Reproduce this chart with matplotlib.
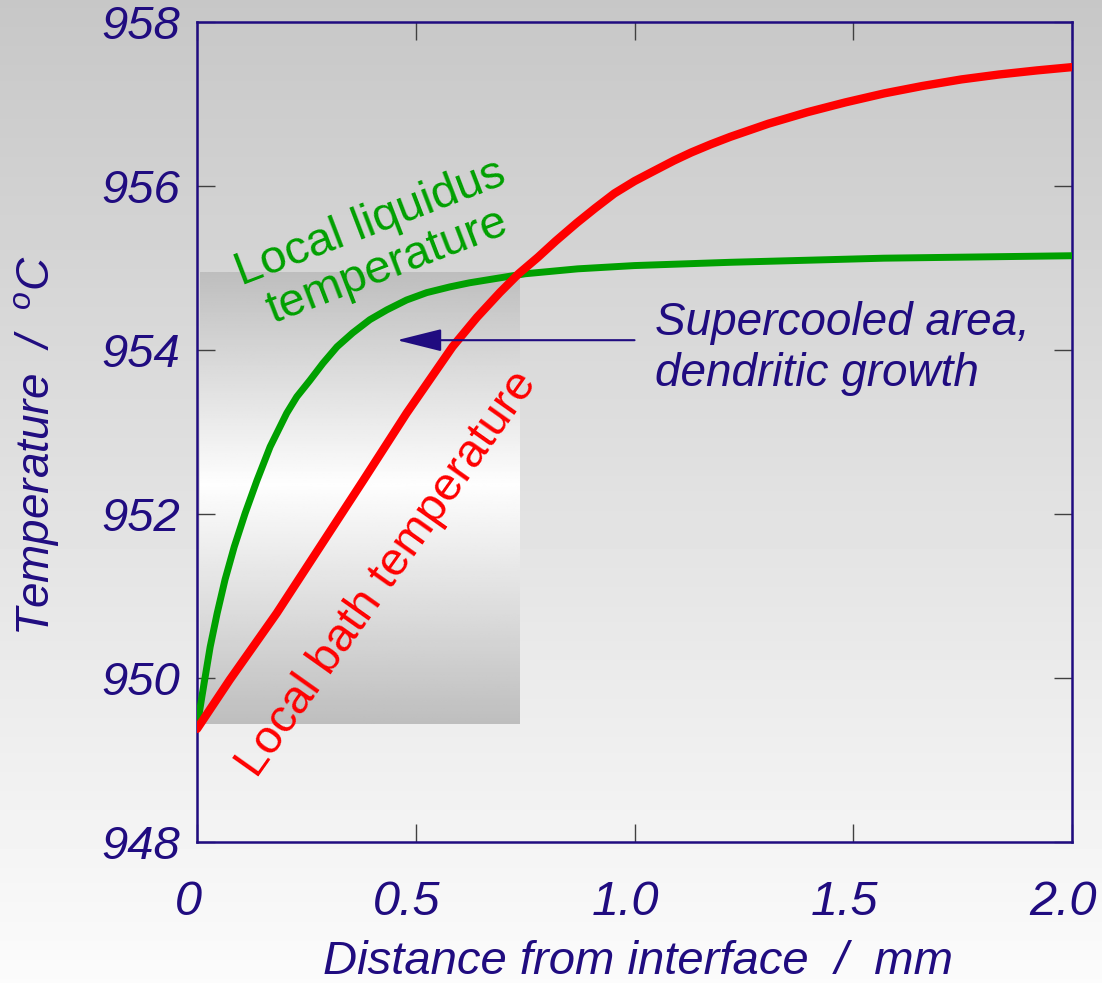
import numpy as np
import matplotlib
matplotlib.use("Agg")
import matplotlib.pyplot as plt
import matplotlib.transforms as mtransforms

# distance from interface (mm) and local bath temperature (degC)
bath_x = [0.0, 0.075, 0.182, 0.281, 0.380, 0.479, 0.584, 0.640, 0.692, 0.735, 0.779,
          0.820, 0.868, 0.910, 0.954, 1.0, 1.043, 1.090, 1.130, 1.175, 1.219, 1.306,
          1.395, 1.482, 1.571, 1.658, 1.747, 1.833, 1.920, 2.0]
bath_T = [949.38, 949.98, 950.79, 951.60, 952.41, 953.23, 954.04, 954.40, 954.70, 954.93,
          955.13, 955.33, 955.55, 955.73, 955.91, 956.06, 956.18, 956.31, 956.41, 956.51,
          956.60, 956.76, 956.90, 957.02, 957.13, 957.22, 957.30, 957.36, 957.41, 957.45]

# local liquidus temperature
liq_x = [0.0, 0.011, 0.030, 0.046, 0.064, 0.085, 0.110, 0.137, 0.167, 0.205, 0.228,
         0.258, 0.288, 0.320, 0.356, 0.395, 0.434, 0.479, 0.525, 0.578, 0.623, 0.669,
         0.750, 0.870, 1.0, 1.220, 1.570, 2.0]
liq_T = [949.40, 949.77, 950.38, 950.79, 951.20, 951.60, 952.01, 952.41, 952.82, 953.23,
         953.43, 953.63, 953.84, 954.04, 954.21, 954.37, 954.49, 954.61, 954.70, 954.77,
         954.82, 954.86, 954.93, 954.99, 955.03, 955.07, 955.12, 955.15]

# supercooled zone (shaded box) and arrow
shade_x = [0.007, 0.737]
shade_T = [949.44, 954.95]
arrow_from = (1.0, 954.12)
arrow_to = (0.457, 954.12)

xticks = [0, 0.5, 1.0, 1.5, 2.0]
xtick_labels = ["0", "0.5", "1.0", "1.5", "2.0"]
yticks = [948, 950, 952, 954, 956, 958]

navy = "#200c80"
red = "#ff0000"
green = "#00a000"

plt.rcParams["font.family"] = ["Liberation Sans", "DejaVu Sans"]
plt.rcParams["mathtext.fontset"] = "custom"
plt.rcParams["mathtext.rm"] = "Liberation Sans:italic"
plt.rcParams["mathtext.it"] = "Liberation Sans:italic"

fig = plt.figure(figsize=(11.02, 9.83), dpi=100)

# figure background: grey on top fading to near white at the bottom
bg = fig.add_axes([0, 0, 1, 1], zorder=-10)
grad = np.linspace(0.78, 0.985, 256).reshape(-1, 1)
bg.imshow(grad, cmap="gray", vmin=0, vmax=1, aspect="auto", origin="upper",
          extent=[0, 1, 0, 1])
bg.set_axis_off()

ax = fig.add_axes([0.1788, 0.1434, 0.794, 0.8342])
ax.patch.set_alpha(0)

# shaded box with vertical grey-white-grey gradient
t = np.linspace(0, 1, 256)
box = np.where(t < 0.53, 0.745 + 0.25 * t / 0.53, 0.995 - 0.25 * (t - 0.53) / 0.47)
ax.imshow(box.reshape(-1, 1), cmap="gray", vmin=0, vmax=1, aspect="auto",
          origin="lower", extent=[shade_x[0], shade_x[1], shade_T[0], shade_T[1]],
          zorder=1)

ax.plot(liq_x, liq_T, color=green, lw=5, solid_capstyle="round",
        solid_joinstyle="round", zorder=3)
ax.plot(bath_x, bath_T, color=red, lw=6, solid_capstyle="round",
        solid_joinstyle="round", zorder=4)

ax.annotate("", xy=arrow_to, xytext=arrow_from,
            arrowprops=dict(arrowstyle="-|>,head_length=2.0,head_width=0.5",
                            mutation_scale=14, lw=1.5, color=navy,
                            shrinkA=0, shrinkB=0), zorder=5)

ax.text(0.415, 955.28, "Local liquidus\ntemperature", color=green, fontsize=34,
        rotation=21, rotation_mode="anchor", ha="center", va="center",
        multialignment="center", linespacing=1.05, zorder=6)
ax.text(0.435, 951.27, "Local bath temperature", color=red, fontsize=34,
        rotation=54.7, rotation_mode="anchor", ha="center", va="center", zorder=6)
ax.text(1.046, 954.02, "Supercooled area,\ndendritic growth", color=navy,
        fontsize=33, style="italic", ha="left", va="center", linespacing=1.2,
        zorder=6)

ax.set_xlim(0, 2.0)
ax.set_ylim(948, 958)
ax.set_xticks(xticks)
ax.set_xticklabels(xtick_labels)
ax.set_yticks(yticks)

for s in ax.spines.values():
    s.set_color(navy)
    s.set_linewidth(1.8)

ax.tick_params(direction="in", length=13, width=1.0, color="#404040",
               top=True, right=True)
ax.tick_params(axis="x", pad=27, labelsize=35, labelcolor=navy)
ax.tick_params(axis="y", pad=12, labelsize=34, labelcolor=navy)
for lab in ax.get_xticklabels() + ax.get_yticklabels():
    lab.set_fontstyle("italic")

# italic labels sit a bit left of their ticks in the original
shift = mtransforms.ScaledTranslation(-9 / 100, 0, fig.dpi_scale_trans)
for lab in ax.get_xticklabels():
    lab.set_transform(lab.get_transform() + shift)

fig.text(0.579, 0.009, "Distance from interface  /  mm", color=navy, fontsize=34,
         style="italic", ha="center", va="baseline")
fig.text(0.033, 0.547, r"Temperature  /  $^{\mathrm{o}}$C", color=navy,
         fontsize=33, style="italic", rotation=90, ha="center", va="center")

fig.savefig("out.png", dpi=100)
